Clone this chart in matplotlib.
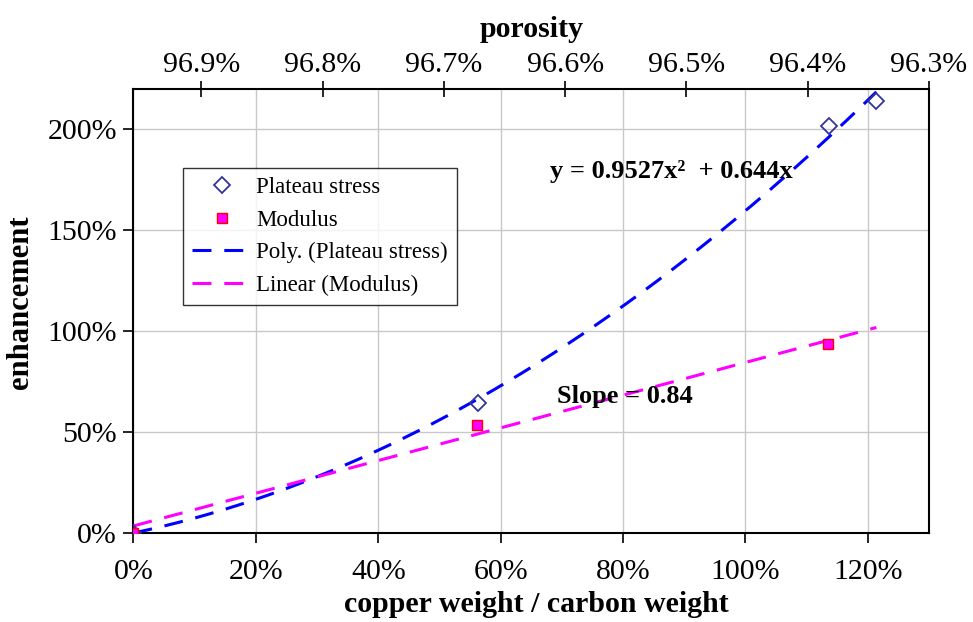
import numpy as np
import matplotlib
matplotlib.use("Agg")
import matplotlib.pyplot as plt
from matplotlib.ticker import FuncFormatter

# ---- data ----
plateau_x = [0.0, 0.563, 1.136, 1.214]
plateau_y = [0.0, 0.645, 2.017, 2.139]
modulus_x = [0.0, 0.561, 1.135]
modulus_y = [0.0, 0.533, 0.938]
poly_coef = [0.9527, 0.644, 0.0]      # y = 0.9527x^2 + 0.644x
lin_coef = [0.81, 0.035]              # drawn linear trend line
x_ticks = [0.0, 0.2, 0.4, 0.6, 0.8, 1.0, 1.2]
y_ticks = [0.0, 0.5, 1.0, 1.5, 2.0]
por_ticks = [96.9, 96.8, 96.7, 96.6, 96.5, 96.4, 96.3]
por_at_xmin = 96.956
por_at_xmax = 96.3

plt.rcParams['font.family'] = ['Liberation Serif', 'DejaVu Serif']

fig = plt.figure(figsize=(9.73, 6.22), dpi=100)
ax = fig.add_axes([0.1372, 0.1431, 0.9548 - 0.1372, 0.8569 - 0.1431])

xmin, xmax = 0.0, 1.3
ax.set_xlim(xmin, xmax)
ax.set_ylim(0, 2.2)

trend_x = np.linspace(0, max(plateau_x), 200)
ax.plot(trend_x, np.polyval(poly_coef, trend_x), color='#0000FF', lw=2.2,
        dashes=(6.2, 4.2), label='Poly. (Plateau stress)', zorder=3)
ax.plot(trend_x, np.polyval(lin_coef, trend_x), color='#FF00FF', lw=2.2,
        dashes=(6.2, 4.2), label='Linear (Modulus)', zorder=3)
ax.plot(plateau_x, plateau_y, linestyle='none', marker='D', ms=8,
        mfc='none', mec='#333399', mew=1.3, label='Plateau stress', zorder=4)
ax.plot(modulus_x, modulus_y, linestyle='none', marker='s', ms=6.5,
        mfc='#FF00FF', mec='#FF0000', mew=1.0, label='Modulus', zorder=5)

pct = FuncFormatter(lambda v, p: f"{v*100:.0f}%")
ax.set_xticks(x_ticks)
ax.set_yticks(y_ticks)
ax.xaxis.set_major_formatter(pct)
ax.yaxis.set_major_formatter(pct)
ax.tick_params(axis='x', direction='out', length=7, width=1.2, labelsize=21.5, pad=12)
ax.tick_params(axis='y', direction='out', length=7, width=1.2, labelsize=21.5, pad=5)
ax.grid(True, color='#c8c8c8', lw=1.0)
ax.set_axisbelow(True)
for s in ax.spines.values():
    s.set_linewidth(1.5)
    s.set_color('black')

ax.set_xlabel('copper weight / carbon weight', fontsize=21.5, fontweight='bold')
ax.xaxis.set_label_coords(0.507, -0.13)
ax.set_ylabel('enhancement', fontsize=22, fontweight='bold')
ax.yaxis.set_label_coords(-0.124, 0.52)

# top porosity axis
ax2 = ax.twiny()
ax2.set_xlim(por_at_xmin, por_at_xmax)
ax2.set_xticks(por_ticks)
ax2.xaxis.set_major_formatter(FuncFormatter(lambda v, p: f"{v:.1f}%"))
ax2.tick_params(axis='x', direction='inout', length=12, width=1.2, labelsize=21.5, pad=2)
ax2.set_xlabel('porosity', fontsize=21.5, fontweight='bold', labelpad=11)
for s in ax2.spines.values():
    s.set_visible(False)

# legend in requested order
handles, labels = ax.get_legend_handles_labels()
order = ['Plateau stress', 'Modulus', 'Poly. (Plateau stress)', 'Linear (Modulus)']
hmap = dict(zip(labels, handles))
leg = ax.legend([hmap[k] for k in order], order, loc='upper left',
                bbox_to_anchor=(0.062, 0.822), borderaxespad=0, fontsize=16.5,
                frameon=True, fancybox=False, handlelength=2.6,
                labelspacing=0.5, borderpad=0.4, handletextpad=0.2)
leg.get_frame().set_edgecolor('black')
leg.get_frame().set_linewidth(1.0)

ax.text(0.68, 1.79, 'y = 0.9527x²  + 0.644x', fontsize=19, fontweight='bold',
        va='center', ha='left')
ax.text(0.692, 0.675, 'Slope = 0.84', fontsize=19, fontweight='bold',
        va='center', ha='left')

fig.savefig('out.png', dpi=100)
